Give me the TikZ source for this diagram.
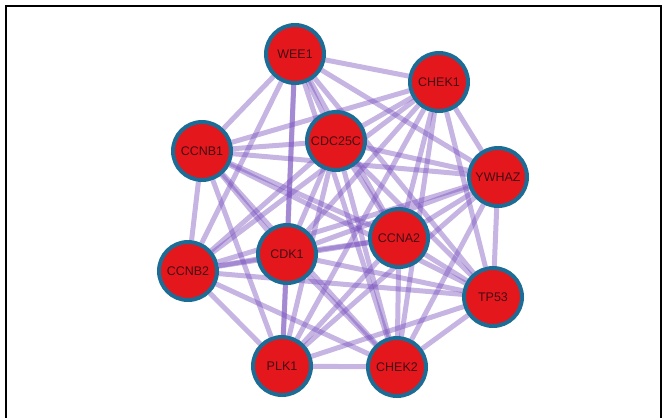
\documentclass[tikz,border=0pt]{standalone}
\usepackage{fontspec}
\setmainfont{Liberation Sans}
\usepackage{tikz}
\usetikzlibrary{backgrounds}
\definecolor{genered}{RGB}{228, 24, 28}
\definecolor{generim}{RGB}{28, 108, 150}
\definecolor{linkpurple}{RGB}{118, 78, 188}
\definecolor{genetext}{RGB}{70, 10, 20}

\tikzset{
    gene/.style={circle, fill=genered, draw=generim, line width=4pt,
        minimum size=58pt, inner sep=0pt, text=genetext,
        font=\fontsize{12.5}{14}\selectfont},
    link/.style={linkpurple, line width=5pt, draw opacity=0.42}
}

\begin{document}
\begin{tikzpicture}[x=1pt, y=-1pt]
    \useasboundingbox (0,0) rectangle (668,418);

    % frame
    \draw[line width=2.4pt] (6,418) -- (6,6) -- (661,6) -- (661,418);

    % genes
    \node[gene] (WEE1)   at (295,54)  {WEE1};
    \node[gene] (CHEK1)  at (439,82)  {CHEK1};
    \node[gene] (CCNB1)  at (202,151) {CCNB1};
    \node[gene] (CDC25C) at (336,141) {CDC25C};
    \node[gene] (YWHAZ)  at (498,177) {YWHAZ};
    \node[gene] (CCNA2)  at (399,238) {CCNA2};
    \node[gene] (CDK1)   at (287,254) {CDK1};
    \node[gene] (CCNB2)  at (188,271) {CCNB2};
    \node[gene] (TP53)   at (493,297) {TP53};
    \node[gene] (PLK1)   at (282,366) {PLK1};
    \node[gene] (CHEK2)  at (397,367) {CHEK2};

    % interactions
    \begin{pgfonlayer}{background}
        \foreach \a/\b in {WEE1/CHEK1, WEE1/CCNB1, WEE1/CDC25C, WEE1/YWHAZ,
                WEE1/CCNA2, WEE1/CDK1, WEE1/CCNB2, WEE1/TP53, WEE1/PLK1,
                WEE1/CHEK2,
                CHEK1/CCNB1, CHEK1/CDC25C, CHEK1/YWHAZ, CHEK1/CCNA2,
                CHEK1/CDK1, CHEK1/CCNB2, CHEK1/TP53, CHEK1/PLK1, CHEK1/CHEK2,
                CCNB1/CDC25C, CCNB1/YWHAZ, CCNB1/CCNA2, CCNB1/CDK1,
                CCNB1/CCNB2, CCNB1/TP53, CCNB1/PLK1, CCNB1/CHEK2,
                CDC25C/YWHAZ, CDC25C/CCNA2, CDC25C/CDK1, CDC25C/CCNB2,
                CDC25C/TP53, CDC25C/PLK1, CDC25C/CHEK2,
                YWHAZ/CCNA2, YWHAZ/CDK1, YWHAZ/CCNB2, YWHAZ/TP53,
                YWHAZ/PLK1, YWHAZ/CHEK2,
                CCNA2/CDK1, CCNA2/CCNB2, CCNA2/TP53, CCNA2/PLK1, CCNA2/CHEK2,
                CDK1/CCNB2, CDK1/TP53, CDK1/PLK1, CDK1/CHEK2,
                CCNB2/TP53, CCNB2/PLK1, CCNB2/CHEK2,
                TP53/PLK1, TP53/CHEK2,
                PLK1/CHEK2}
            \draw[link] (\a) -- (\b);
    \end{pgfonlayer}

\end{tikzpicture}
\end{document}
